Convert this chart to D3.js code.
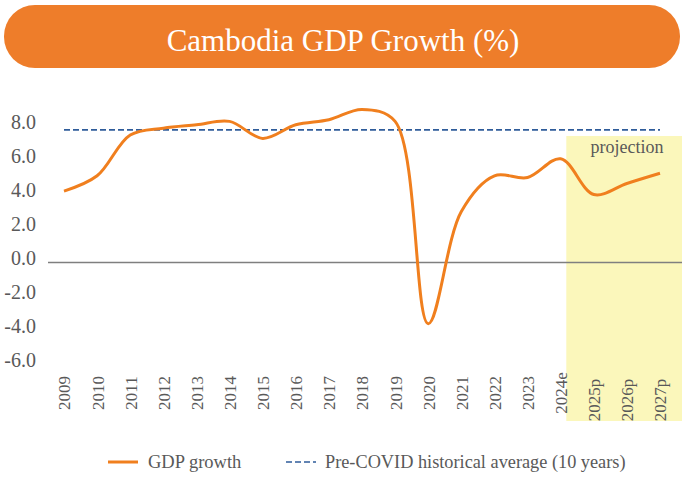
<!DOCTYPE html>
<html>
<head>
<meta charset="utf-8">
<script src="https://cdn.jsdelivr.net/npm/d3@7"></script>
<style>
    html, body { margin: 0; padding: 0; background: #fff; }
    svg { display: block; font-family: "Liberation Serif", "DejaVu Serif", serif; }
</style>
</head>
<body>
<svg id="chart" width="682" height="477"></svg>
<script>
// chart values
const years = ['2009', '2010', '2011', '2012', '2013', '2014', '2015', '2016', '2017', '2018',
    '2019', '2020', '2021', '2022', '2023', '2024e', '2025p', '2026p', '2027p'];
const gdpGrowth = [4.2, 5.1, 7.5, 7.9, 8.1, 8.3, 7.3, 8.1, 8.4, 9.0,
    8.3, -3.6, 3.0, 5.1, 5.0, 6.1, 4.0, 4.65, 5.25];
const preCovidAverage = 7.8;
const yTicks = [-6, -4, -2, 0, 2, 4, 6, 8];
const projectionYears = ['2025p', '2026p', '2027p'];

const orange = '#f07f1e';
const blue = '#2f5c9a';
const textGray = '#595959';

const svg = d3.select('#chart');

// title pill
svg.append('rect')
    .attr('x', 4).attr('y', 5)
    .attr('width', 676).attr('height', 63)
    .attr('rx', 31).attr('ry', 31)
    .attr('fill', '#ee7d2a');

svg.append('text')
    .attr('x', 343).attr('y', 51)
    .attr('text-anchor', 'middle')
    .attr('fill', '#fff')
    .attr('font-size', 31)
    .text('Cambodia GDP Growth (%)');

let x = d3.scalePoint()
    .domain(years)
    .range([64, 660]);

let y = d3.scaleLinear()
    .domain([-6, 8])
    .range([364.5, 126.5]);

// projection band
let step = x.step();
let bandLeft = x('2024e') + step * 0.17;
svg.append('rect')
    .attr('x', bandLeft)
    .attr('y', 136)
    .attr('width', 682 - bandLeft)
    .attr('height', 285)
    .attr('fill', '#fbf7bb');

svg.append('text')
    .attr('x', 627).attr('y', 153)
    .attr('text-anchor', 'middle')
    .attr('fill', textGray)
    .attr('font-size', 18)
    .text('projection');

// y axis labels
let yAxis = svg.append('g')
    .attr('transform', 'translate(36,0)')
    .call(d3.axisLeft(y).tickValues(yTicks).tickSize(0).tickPadding(0)
        .tickFormat(d => d.toFixed(1)));
yAxis.select('.domain').remove();
yAxis.selectAll('text')
    .attr('y', -4)
    .attr('fill', textGray)
    .attr('font-size', 20)
    .attr('font-family', '"Liberation Serif", serif');

// x axis labels (rotated)
let xAxis = svg.append('g')
    .attr('transform', 'translate(0,393)')
    .call(d3.axisBottom(x).tickSize(0).tickPadding(0));
xAxis.select('.domain').remove();
xAxis.selectAll('text')
    .attr('transform', 'rotate(-90)')
    .attr('text-anchor', 'middle')
    .attr('x', d => projectionYears.includes(d) ? -7 : 0)
    .attr('y', 0)
    .attr('dy', '0.35em')
    .attr('fill', textGray)
    .attr('font-size', 17)
    .attr('font-family', '"Liberation Serif", serif');

// zero line
svg.append('line')
    .attr('x1', 48).attr('x2', 682)
    .attr('y1', y(0)).attr('y2', y(0))
    .attr('stroke', '#7f7f7f')
    .attr('stroke-width', 1.5);

// pre-covid average
svg.append('line')
    .attr('x1', x(years[0])).attr('x2', x(years[years.length - 1]))
    .attr('y1', y(preCovidAverage)).attr('y2', y(preCovidAverage))
    .attr('stroke', blue)
    .attr('stroke-width', 1.6)
    .attr('stroke-dasharray', '6,3');

// gdp growth line
let line = d3.line()
    .x((d, i) => x(years[i]))
    .y(d => y(d))
    .curve(d3.curveCatmullRom.alpha(0.5));

svg.append('path')
    .datum(gdpGrowth)
    .attr('d', line)
    .attr('fill', 'none')
    .attr('stroke', orange)
    .attr('stroke-width', 3)
    .attr('stroke-linejoin', 'round');

// legend
let legend = svg.append('g').attr('transform', 'translate(0,462)');
legend.append('line')
    .attr('x1', 108).attr('x2', 138)
    .attr('stroke', orange).attr('stroke-width', 3);
legend.append('text')
    .attr('x', 148).attr('dy', '0.32em')
    .attr('fill', textGray).attr('font-size', 18.5)
    .text('GDP growth');
legend.append('line')
    .attr('x1', 286).attr('x2', 316)
    .attr('stroke', blue).attr('stroke-width', 1.6)
    .attr('stroke-dasharray', '6,3');
legend.append('text')
    .attr('x', 325).attr('dy', '0.32em')
    .attr('fill', textGray).attr('font-size', 18.3)
    .text('Pre-COVID historical average (10 years)');
</script>
</body>
</html>
